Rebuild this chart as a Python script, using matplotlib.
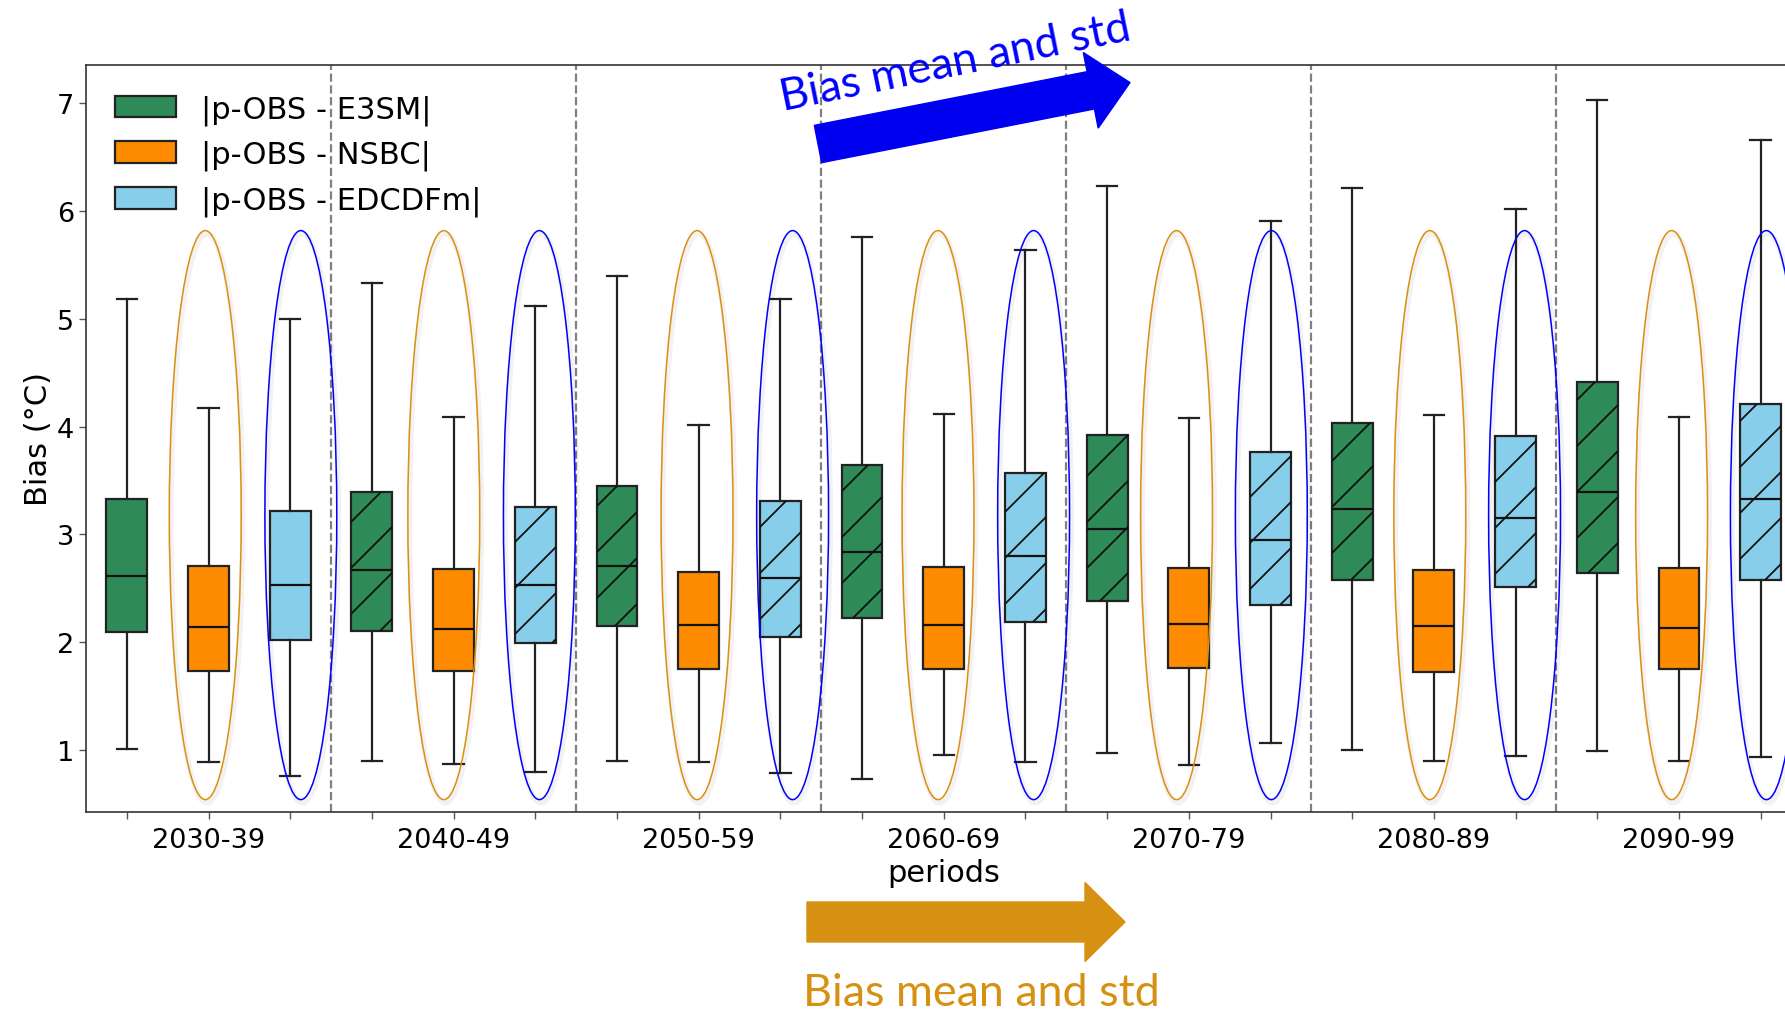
import numpy as np
import matplotlib
matplotlib.use("Agg")
import matplotlib.pyplot as plt
from matplotlib.patches import Ellipse, FancyArrow
from matplotlib.lines import Line2D
from matplotlib.transforms import IdentityTransform

periods = ["2030-39", "2040-49", "2050-59", "2060-69", "2070-79", "2080-89", "2090-99"]
labels = ["|p-OBS - E3SM|", "|p-OBS - NSBC|", "|p-OBS - EDCDFm|"]

# box statistics per period
e3sm_lo = [1.01, 0.90, 0.90, 0.73, 0.97, 1.00, 0.99]
e3sm_q1 = [2.09, 2.10, 2.15, 2.22, 2.38, 2.58, 2.64]
e3sm_med = [2.61, 2.67, 2.71, 2.84, 3.05, 3.23, 3.39]
e3sm_q3 = [3.33, 3.39, 3.45, 3.64, 3.92, 4.03, 4.41]
e3sm_hi = [5.18, 5.33, 5.40, 5.76, 6.23, 6.21, 7.03]

nsbc_lo = [0.89, 0.87, 0.89, 0.95, 0.86, 0.90, 0.90]
nsbc_q1 = [1.73, 1.73, 1.75, 1.75, 1.76, 1.72, 1.75]
nsbc_med = [2.14, 2.12, 2.16, 2.16, 2.17, 2.15, 2.13]
nsbc_q3 = [2.71, 2.68, 2.65, 2.70, 2.69, 2.67, 2.69]
nsbc_hi = [4.17, 4.09, 4.01, 4.12, 4.08, 4.11, 4.09]

edc_lo = [0.76, 0.79, 0.78, 0.89, 1.06, 0.94, 0.93]
edc_q1 = [2.02, 1.99, 2.05, 2.19, 2.34, 2.51, 2.58]
edc_med = [2.53, 2.53, 2.59, 2.80, 2.95, 3.15, 3.33]
edc_q3 = [3.22, 3.25, 3.31, 3.57, 3.76, 3.91, 4.21]
edc_hi = [5.00, 5.12, 5.18, 5.64, 5.91, 6.02, 6.66]

# hand-drawn ellipse shifts relative to the box they surround
orange_shift = [-0.04, -0.12, -0.02, -0.07, -0.15, -0.05, -0.09]
blue_shift = [0.13, 0.05, 0.15, 0.10, 0.01, 0.11, 0.07]

colors = ["#2E8B57", "#FF8C00", "#87CEEB"]

series = [
    (e3sm_lo, e3sm_q1, e3sm_med, e3sm_q3, e3sm_hi),
    (nsbc_lo, nsbc_q1, nsbc_med, nsbc_q3, nsbc_hi),
    (edc_lo, edc_q1, edc_med, edc_q3, edc_hi),
]

stats = []
for g in range(len(periods)):
    for s in range(3):
        lo, q1, med, q3, hi = series[s]
        stats.append(dict(whislo=lo[g], q1=q1[g], med=med[g], q3=q3[g],
                          whishi=hi[g], fliers=[]))
positions = np.arange(len(stats))

fig = plt.figure(figsize=(17.85, 10.12), dpi=100)
ax = fig.add_axes([86 / 1785, 199 / 1012, 1715.5 / 1785, 747 / 1012])

lc = "#222222"
bp = ax.bxp(stats, positions=positions, widths=0.5, patch_artist=True,
            showfliers=False,
            boxprops=dict(linewidth=1.6, edgecolor=lc),
            whiskerprops=dict(linewidth=1.6, color=lc),
            capprops=dict(linewidth=1.6, color=lc),
            medianprops=dict(linewidth=1.6, color="#111111"))
for i, box in enumerate(bp["boxes"]):
    box.set_facecolor(colors[i % 3])
    box.set_zorder(2)

ax.set_xlim(-0.5, len(stats) - 0.5)
ax.set_ylim(0.422, 7.356)

for g in range(1, len(periods)):
    ax.axvline(3 * g - 0.5, color="#808080", ls="--", lw=1.6, zorder=1)

ticklabels = []
for p in periods:
    ticklabels += ["", p, ""]
ax.set_xticks(positions)
ax.set_xticklabels(ticklabels)
ax.set_yticks(range(1, 8))
ax.tick_params(axis="both", labelsize=19.5, length=5, width=1.0, color="#555555")
ax.tick_params(axis="x", pad=5.5)
for sp in ax.spines.values():
    sp.set_color("#333333")
    sp.set_linewidth(1.2)

ax.set_ylabel("Bias (°C)", fontsize=22, labelpad=3)
ax.set_xlabel("periods", fontsize=22, labelpad=4)

ax.legend(bp["boxes"][:3], labels, loc="upper left", frameon=False,
          fontsize=22, labelspacing=0.5, borderaxespad=0.55)

# sparse hatch drawn by hand (matplotlib's '/' is too dense)
step = 46
for i, box in enumerate(bp["boxes"]):
    if i % 3 == 1 or i < 3:
        continue
    st = stats[i]
    (x0, y0) = ax.transData.transform((positions[i] - 0.25, st["q1"]))
    (x1, y1) = ax.transData.transform((positions[i] + 0.25, st["q3"]))
    b = np.floor((y0 - x1) / step) * step
    while b < y1 - x0 + step:
        ln = Line2D([x0 - 5, x1 + 5], [x0 - 5 + b, x1 + 5 + b], color="#111111",
                    lw=1.3, transform=IdentityTransform(), zorder=3)
        ax.add_line(ln)
        ln.set_clip_path(box)
        b += step

# ellipses drawn over the plot
ey, eh, ew = 3.178, 5.282, 0.88
for g in range(len(periods)):
    for pos, col in [(3 * g + 1 + orange_shift[g], "#DD8F0E"),
                     (3 * g + 2 + blue_shift[g], "#0000FF")]:
        ax.add_patch(Ellipse((pos + 0.02, ey - 0.03), ew, eh, fill=False,
                             edgecolor="k", lw=4, alpha=0.05, zorder=4))
        ax.add_patch(Ellipse((pos, ey), ew, eh, fill=False, edgecolor=col,
                             lw=1.1, zorder=5))

# arrows and their captions, in figure pixels
fig.add_artist(FancyArrow(818, 867, 312, 61.4, width=38, head_width=77,
                          head_length=40, length_includes_head=True,
                          color="#0000F0", transform=IdentityTransform()))
fig.add_artist(FancyArrow(807, 89, 318, 0, width=40, head_width=79,
                          head_length=40, length_includes_head=True,
                          color="#D69112", transform=IdentityTransform()))
fig.text(958 / 1785, 937 / 1012, "Bias mean and std", rotation=11.5,
         rotation_mode="anchor", ha="center", va="baseline", color="#0000FF",
         fontsize=32.3, family="Lato")
fig.text(981 / 1785, 6 / 1012, "Bias mean and std", ha="center", va="baseline",
         color="#D69112", fontsize=32.3, family="Lato")

fig.savefig("out.png", dpi=100)
